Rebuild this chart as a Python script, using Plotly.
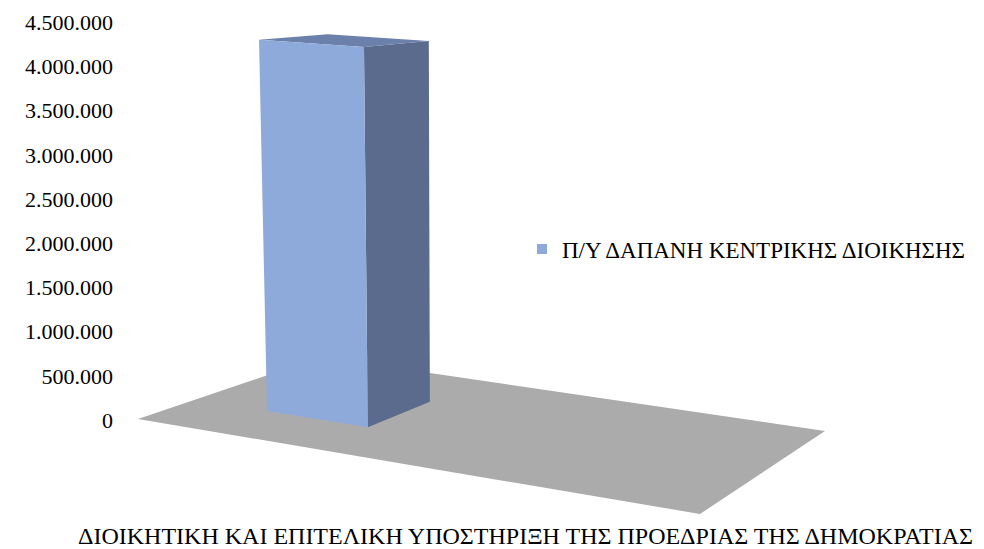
import numpy as np
import plotly.graph_objects as go

# data
categories = ["ΔΙΟΙΚΗΤΙΚΗ ΚΑΙ ΕΠΙΤΕΛΙΚΗ ΥΠΟΣΤΗΡΙΞΗ ΤΗΣ ΠΡΟΕΔΡΙΑΣ ΤΗΣ ΔΗΜΟΚΡΑΤΙΑΣ"]
series_name = "Π/Υ ΔΑΠΑΝΗ ΚΕΝΤΡΙΚΗΣ ΔΙΟΙΚΗΣΗΣ"
values = [4300000]
tick_vals = [0, 500000, 1000000, 1500000, 2000000, 2500000, 3000000, 3500000, 4000000, 4500000]

PAGE_W, PAGE_H = 984, 549
OFF = 8                      # body margin of the html page
W, H = PAGE_W - OFF, PAGE_H - OFF
L_MARGIN = 106
ZERO_PX = 420                # page row of value 0
PX_PER_VAL = 88.4e-6         # pixels per unit of value

FRONT = "#8EAADB"
SIDE = "#5B6B8E"
TOP = "#6C80AC"
FLOOR = "#ABABAB"
FONT = "Liberation Serif, Times New Roman, serif"

# fake 3d: floor quad corners on the page (front-left, front-right, back-right, back-left)
floor_px = np.array([[138, 419], [700, 514], [825, 431], [321, 357]], dtype=float)
vp = (455.0, 9100.0)   # vanishing point of the verticals


def homography(q):
    (x0, y0), (x1, y1), (x2, y2), (x3, y3) = q
    sx, sy = x0 - x1 + x2 - x3, y0 - y1 + y2 - y3
    dx1, dx2, dy1, dy2 = x1 - x2, x3 - x2, y1 - y2, y3 - y2
    det = dx1 * dy2 - dx2 * dy1
    g = (sx * dy2 - dx2 * sy) / det
    h = (dx1 * sy - sx * dy1) / det
    return (x1 - x0 + g * x1, x3 - x0 + h * x3, x0,
            y1 - y0 + g * y1, y3 - y0 + h * y3, y0, g, h)


HM = homography(floor_px)


def project(u, w, val=0.0):
    a, b, c, d, e, f, g, h = HM
    den = g * u + h * w + 1
    xb = (a * u + b * w + c) / den
    yb = (d * u + e * w + f) / den
    hp = val * PX_PER_VAL / den
    xt = xb + (xb - vp[0]) * hp / (vp[1] - yb)
    return xt, (ZERO_PX - yb + hp) / PX_PER_VAL


def poly(pts):
    xs = [p[0] for p in pts] + [pts[0][0]]
    ys = [p[1] for p in pts] + [pts[0][1]]
    return xs, ys


# bar footprint on the floor (u across, w in depth)
u0, u1 = 0.146, 0.344
w0, w1 = 0.287, 0.658

fig = go.Figure()

fx, fy = poly([project(u, w) for u, w in [(0, 0), (1, 0), (1, 1), (0, 1)]])
fig.add_trace(go.Scatter(x=fx, y=fy, fill="toself", fillcolor=FLOOR, mode="lines",
                         line=dict(width=0, color=FLOOR), showlegend=False, hoverinfo="skip"))

v = values[0]
faces = [
    (TOP, [(u0, w0, v), (u1, w0, v), (u1, w1, v), (u0, w1, v)]),
    (SIDE, [(u1, w0, 0), (u1, w1, 0), (u1, w1, v), (u1, w0, v)]),
    (FRONT, [(u0, w0, 0), (u1, w0, 0), (u1, w0, v), (u0, w0, v)]),
]
for col, pts in faces:
    px_, py_ = poly([project(*p) for p in pts])
    fig.add_trace(go.Scatter(x=px_, y=py_, fill="toself", fillcolor=col, mode="lines",
                             line=dict(width=0, color=col), showlegend=False,
                             name=series_name, text=categories[0], hoverinfo="text+name"))

# legend entry
fig.add_trace(go.Scatter(x=[None], y=[None], mode="markers", name=series_name,
                         marker=dict(symbol="square", size=10, color=FRONT)))

fig.add_annotation(text=categories[0], x=525, xref="x", y=(PAGE_H - 536) / H, yref="paper",
                   yanchor="middle", showarrow=False,
                   font=dict(family=FONT, size=24, color="black"))

fig.update_xaxes(range=[OFF + L_MARGIN, PAGE_W], visible=False)
fig.update_yaxes(range=[(ZERO_PX - PAGE_H) / PX_PER_VAL, (ZERO_PX - OFF) / PX_PER_VAL],
                 tickvals=tick_vals, tickformat=",d", showgrid=False, zeroline=False,
                 showline=False, ticks="",
                 tickfont=dict(family=FONT, size=22, color="black"))

fig.update_layout(
    width=W, height=H,
    margin=dict(l=L_MARGIN, r=0, t=0, b=0),
    separators=",.",
    plot_bgcolor="white", paper_bgcolor="white",
    font=dict(family=FONT, size=22, color="black"),
    legend=dict(x=(522 - OFF - L_MARGIN) / (W - L_MARGIN), xanchor="left",
                y=(PAGE_H - 249) / H, yanchor="middle", bgcolor="rgba(0,0,0,0)",
                font=dict(family=FONT, size=23)),
)

fig.write_html("out.html")
